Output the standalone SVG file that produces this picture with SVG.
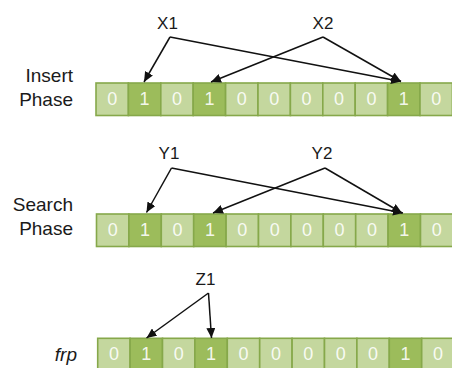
<svg xmlns="http://www.w3.org/2000/svg" width="452" height="368" viewBox="0 0 452 368">
  <defs>
    <style>
      .bg { fill: #ffffff; }
      .lbl { font-family: "Liberation Sans", Arial, sans-serif; font-size: 19px; fill: #1a1a1a; text-anchor: end; }
      .key { font-family: "Liberation Sans", Arial, sans-serif; font-size: 17px; fill: #1a1a1a; text-anchor: middle; }
      .cell rect { stroke: #86a84a; stroke-width: 1.6; }
      .c0 rect { fill: #c4d79e; }
      .c1 rect { fill: #9cbc5b; }
      .cell text { font-family: "Liberation Sans", Arial, sans-serif; font-size: 18px; fill: #ffffff; fill-opacity: 0.9; text-anchor: middle; }
      .link { stroke: #111111; stroke-width: 1.5; fill: none; marker-end: url(#head); }
    </style>
    <marker id="head" markerUnits="userSpaceOnUse" markerWidth="11" markerHeight="9" refX="10" refY="4.5" orient="auto">
      <path d="M0,0 L10,4.5 L0,9 Z" fill="#111111"/>
    </marker>
    <!-- one bit cell, 32.4 wide -->
    <g id="cell0" class="cell c0"><rect x="0" y="0" width="32.4" height="32.5"/><text x="16.2" y="22.2">0</text></g>
    <g id="cell1" class="cell c1"><rect x="0" y="0" width="32.4" height="32.5"/><text x="16.2" y="22.2">1</text></g>
  </defs>

  <rect class="bg" x="0" y="0" width="452" height="368"/>

  <!-- row labels -->
  <g id="label-insert"><text class="lbl" x="73" y="82"><tspan x="73">Insert</tspan><tspan x="73" y="105.5">Phase</tspan></text></g>
  <g id="label-search"><text class="lbl" x="73" y="211"><tspan x="73">Search</tspan><tspan x="73" y="234.5">Phase</tspan></text></g>
  <g id="label-frp"><text class="lbl" x="77" y="360.5" font-style="italic">frp</text></g>

  <!-- hash keys -->
  <g id="key-x1"><text class="key" x="167.5" y="28.5">X1</text></g>
  <g id="key-x2"><text class="key" x="323" y="28.5">X2</text></g>
  <g id="key-y1"><text class="key" x="169" y="158.5">Y1</text></g>
  <g id="key-y2"><text class="key" x="322" y="158.5">Y2</text></g>
  <g id="key-z1"><text class="key" x="205.5" y="285">Z1</text></g>

  <!-- bit arrays: 0 1 0 1 0 0 0 0 0 1 0 -->
  <g id="array-insert" transform="translate(96,83)">
    <use href="#cell0" x="0"/><use href="#cell1" x="32.4"/><use href="#cell0" x="64.8"/><use href="#cell1" x="97.2"/>
    <use href="#cell0" x="129.6"/><use href="#cell0" x="162"/><use href="#cell0" x="194.4"/><use href="#cell0" x="226.8"/>
    <use href="#cell0" x="259.2"/><use href="#cell1" x="291.6"/><use href="#cell0" x="324"/>
  </g>
  <g id="array-search" transform="translate(96.5,214)">
    <use href="#cell0" x="0"/><use href="#cell1" x="32.4"/><use href="#cell0" x="64.8"/><use href="#cell1" x="97.2"/>
    <use href="#cell0" x="129.6"/><use href="#cell0" x="162"/><use href="#cell0" x="194.4"/><use href="#cell0" x="226.8"/>
    <use href="#cell0" x="259.2"/><use href="#cell1" x="291.6"/><use href="#cell0" x="324"/>
  </g>
  <g id="array-frp" transform="translate(97.7,338.3)">
    <use href="#cell0" x="0"/><use href="#cell1" x="32.4"/><use href="#cell0" x="64.8"/><use href="#cell1" x="97.2"/>
    <use href="#cell0" x="129.6"/><use href="#cell0" x="162"/><use href="#cell0" x="194.4"/><use href="#cell0" x="226.8"/>
    <use href="#cell0" x="259.2"/><use href="#cell1" x="291.6"/><use href="#cell0" x="324"/>
  </g>

  <!-- hash arrows -->
  <g id="connectors">
    <line class="link" x1="170" y1="37" x2="144" y2="82"/>
    <line class="link" x1="170" y1="37" x2="401" y2="81.5"/>
    <line class="link" x1="323" y1="37" x2="211" y2="82"/>
    <line class="link" x1="323" y1="37" x2="401" y2="81.5"/>

    <line class="link" x1="171.5" y1="168" x2="146.5" y2="212.5"/>
    <line class="link" x1="171.5" y1="168" x2="403" y2="213"/>
    <line class="link" x1="325" y1="168" x2="213" y2="213"/>
    <line class="link" x1="325" y1="168" x2="402" y2="213"/>

    <line class="link" x1="208.5" y1="293" x2="146.5" y2="338"/>
    <line class="link" x1="208.5" y1="293" x2="211.5" y2="338"/>
  </g>
</svg>
